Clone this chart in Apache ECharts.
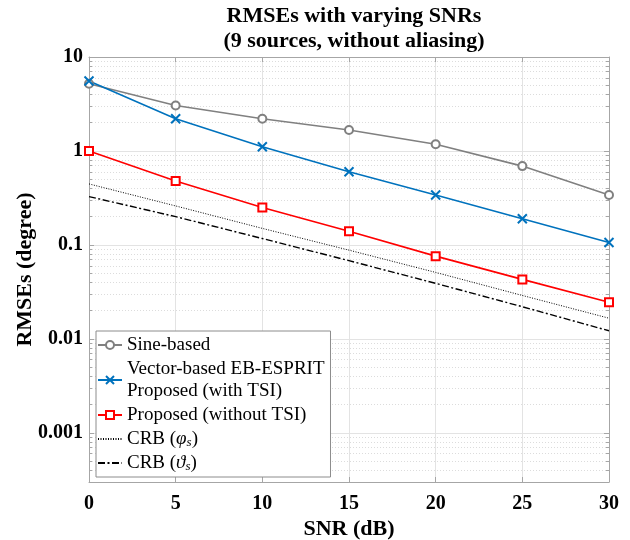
<!DOCTYPE html>
<html>
<head>
<meta charset="utf-8">
<title>RMSEs with varying SNRs</title>
<script src="https://cdn.jsdelivr.net/npm/echarts@6/dist/echarts.min.js"></script>
<style>
    html, body { margin: 0; padding: 0; background: #fff; }
    #rmse-chart { width: 630px; height: 540px; }
</style>
</head>
<body>
<div id="rmse-chart"></div>
<script>
var snr = [0, 5, 10, 15, 20, 25, 30]; //横坐标 SNR (dB)
var sineBased = [5.2, 3.05, 2.2, 1.67, 1.18, 0.69, 0.34];
var vectorBased = [5.55, 2.2, 1.11, 0.6, 0.34, 0.19, 0.106];
var proposedNoTsi = [1.0, 0.48, 0.25, 0.14, 0.076, 0.043, 0.0245];
var crbPhi = [0.446, 0.26, 0.15, 0.088, 0.051, 0.029, 0.0166];
var crbTheta = [0.327, 0.2, 0.117, 0.068, 0.039, 0.022, 0.0122];
var seriesNames = ['Sine-based', 'Vector-based EB-ESPRIT\nProposed (with TSI)', 'Proposed (without TSI)', 'CRB (φs)', 'CRB (ϑs)'];

var serif = '"Liberation Serif", "Times New Roman", serif';

initChart('rmse-chart');

/**
 * @desc 组装 [x, y] 数据
 */
function pairs(ys) {
    var out = [];
    for (var i = 0; i < snr.length; i++) {
        out.push([snr[i], ys[i]]);
    }
    return out;
}

/**
 * @desc 只显示整十次幂的刻度值
 */
function decadeLabel(v) {
    var e = Math.log10(v);
    if (Math.abs(e - Math.round(e)) > 1e-6) return '';
    return String(+Math.pow(10, Math.round(e)).toPrecision(1));
}

/**
 * @desc 图例文字, CRB 的希腊字母用斜体加下标
 */
function legendLabel(name) {
    if (name.indexOf('CRB') === 0) {
        var g = name.charAt(5);
        return '{n|CRB (}{i|' + g + '}{s|s}{n|)}';
    }
    return name;
}

function initChart(elementId) {
    var myChart = echarts.init(document.getElementById(elementId));

    var gridColor = '#e3e3e3';
    var axisColor = '#a6a6a6';

    var xBase = {
        type: 'value',
        min: 0,
        max: 30,
        interval: 5,
        axisLine: { show: true, onZero: false, lineStyle: { color: axisColor, width: 1 } },
        axisTick: { show: true, inside: true, length: 5, lineStyle: { color: axisColor } },
        splitLine: { show: false }
    };
    var yBase = {
        type: 'log',
        logBase: 10,
        min: 0.0003,
        max: 10,
        axisLine: { show: true, onZero: false, lineStyle: { color: axisColor, width: 1 } },
        axisTick: { show: true, inside: true, length: 5, lineStyle: { color: axisColor } },
        minorTick: { show: true, splitNumber: 9, length: 3, lineStyle: { color: axisColor } },
        splitLine: { show: false }
    };

    var option = {
        backgroundColor: '#fff',
        animation: false,
        title: {
            text: 'RMSEs with varying SNRs\n(9 sources, without aliasing)',
            left: 349,
            top: -1,
            textAlign: 'center',
            textStyle: {
                fontFamily: serif,
                fontWeight: 'bold',
                fontSize: 22,
                lineHeight: 25,
                color: '#000'
            }
        },
        grid: {
            left: 89,
            right: 21,
            top: 57,
            bottom: 58,
            containLabel: false,
            outerBoundsMode: 'none'
        },
        legend: {
            orient: 'vertical',
            left: 96,
            top: 331,
            padding: [3, 6, 3, 1],
            itemGap: 2,
            itemWidth: 24,
            itemHeight: 10,
            backgroundColor: '#fff',
            borderColor: '#8c8c8c',
            borderWidth: 1,
            data: seriesNames,
            formatter: legendLabel,
            textStyle: {
                fontFamily: serif,
                fontSize: 19,
                lineHeight: 22,
                color: '#000',
                rich: {
                    n: { fontFamily: serif, fontSize: 19, color: '#000' },
                    i: { fontFamily: serif, fontSize: 19, fontStyle: 'italic', color: '#000' },
                    s: { fontFamily: serif, fontSize: 13, fontStyle: 'italic', color: '#000', padding: [7, 0, 0, 0] }
                }
            }
        },
        xAxis: [
            echarts.util.merge({
                position: 'bottom',
                name: 'SNR (dB)',
                nameLocation: 'middle',
                nameGap: 36,
                nameMoveOverlap: false,
                nameTextStyle: { fontFamily: serif, fontWeight: 'bold', fontSize: 22, color: '#000' },
                axisLabel: { fontFamily: serif, fontWeight: 'bold', fontSize: 20, color: '#000', margin: 12 },
                splitLine: { show: true, lineStyle: { color: gridColor, width: 1 } }
            }, xBase, false),
            echarts.util.merge({
                position: 'top',
                axisLabel: { show: false }
            }, xBase, false)
        ],
        yAxis: [
            echarts.util.merge({
                position: 'left',
                name: 'RMSEs (degree)',
                nameLocation: 'middle',
                nameGap: 53,
                nameMoveOverlap: false,
                nameTextStyle: { fontFamily: serif, fontWeight: 'bold', fontSize: 22, color: '#000' },
                axisLabel: { fontFamily: serif, fontWeight: 'bold', fontSize: 20, color: '#000', margin: 6, formatter: decadeLabel },
                splitLine: { show: true, lineStyle: { color: gridColor, width: 1 } },
                minorSplitLine: { show: true, lineStyle: { color: '#dcdcdc', width: 1, type: [1, 2] } }
            }, yBase, false),
            echarts.util.merge({
                position: 'right',
                axisLabel: { show: false }
            }, yBase, false)
        ],
        series: [{
            name: seriesNames[0],
            type: 'line',
            data: pairs(sineBased),
            symbol: 'emptyCircle',
            symbolSize: 8,
            lineStyle: { color: '#808080', width: 1.6 },
            itemStyle: { color: '#808080', borderWidth: 1.4 }
        }, {
            name: seriesNames[1],
            type: 'line',
            data: pairs(vectorBased),
            symbol: 'path://M0,0L10,10M10,0L0,10',
            symbolSize: 9,
            lineStyle: { color: '#0072BD', width: 1.6 },
            itemStyle: { color: '#0072BD', borderColor: '#0072BD', borderWidth: 2 }
        }, {
            name: seriesNames[2],
            type: 'line',
            data: pairs(proposedNoTsi),
            symbol: 'emptyRect',
            symbolSize: 8,
            lineStyle: { color: '#ff0000', width: 1.6 },
            itemStyle: { color: '#ff0000', borderWidth: 1.4 }
        }, {
            name: seriesNames[3],
            type: 'line',
            data: pairs(crbPhi),
            symbol: 'circle',
            showSymbol: false,
            lineStyle: { color: '#000', width: 1, type: [1, 1.5] },
            itemStyle: { color: 'rgba(0,0,0,0)', borderWidth: 0 }
        }, {
            name: seriesNames[4],
            type: 'line',
            data: pairs(crbTheta),
            symbol: 'circle',
            showSymbol: false,
            lineStyle: { color: '#000', width: 1.4, type: [7, 2.5, 2, 2.5] },
            itemStyle: { color: 'rgba(0,0,0,0)', borderWidth: 0 }
        }]
    };

    myChart.setOption(option);
}
</script>
</body>
</html>
